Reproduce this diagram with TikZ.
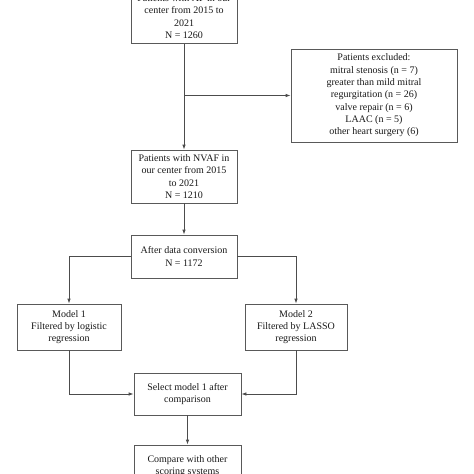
\documentclass[tikz,border=0pt]{standalone}
\usepackage{fontspec}
\setmainfont{Liberation Serif}
\usepackage{tikz}
\usetikzlibrary{arrows.meta}
\colorlet{boxgray}{black!65}
\colorlet{linegray}{black!70}

\tikzset{
  flowbox/.style={draw=boxgray, line width=0.8pt, align=center, inner sep=1pt,
    font=\fontsize{10}{12.3}\selectfont, text=black!90},
  flowline/.style={draw=linegray, line width=0.8pt},
  flowarrow/.style={flowline, -{Latex[length=5pt,width=3.5pt]}}
}

\begin{document}
\begin{tikzpicture}[x=1pt,y=-1pt]
        \clip (0,0) rectangle (474,474);
        \fill[white] (0,0) rectangle (474,474);

        \node[flowbox, minimum width=106pt, minimum height=54pt] (all) at (184,16.5)
          {Patients with AF in our\\center from 2015 to\\2021\\N = 1260};
        \node[flowbox, minimum width=166pt, minimum height=93pt] (excl) at (374,95.5)
          {Patients excluded:\\mitral stenosis (n = 7)\\greater than mild mitral\\regurgitation (n = 26)\\valve repair (n = 6)\\LAAC (n = 5)\\other heart surgery (6)};
        \node[flowbox, minimum width=106pt, minimum height=53pt] (nvaf) at (184,176.5)
          {Patients with NVAF in\\our center from 2015\\to 2021\\N = 1210};
        \node[flowbox, minimum width=106pt, minimum height=43pt] (conv) at (184,256.5)
          {After data conversion\\N = 1172};
        \node[flowbox, minimum width=104pt, minimum height=46pt] (model1) at (69,327)
          {Model 1\\Filtered by logistic\\regression};
        \node[flowbox, minimum width=102pt, minimum height=46pt] (model2) at (296,327)
          {Model 2\\Filtered by LASSO\\regression};
        \node[flowbox, minimum width=107pt, minimum height=42pt] (select) at (187.5,394)
          {Select model 1 after\\comparison};
        \node[flowbox, minimum width=107pt, minimum height=42pt] (compare) at (187.5,466)
          {Compare with other\\scoring systems};

        % exclusions branch off the first arrow
        \draw[flowarrow] (all.south) -- (nvaf.north);
        \coordinate (split) at (all.south |- excl.west);
        \draw[flowarrow] (split) -- (excl.west);
        \draw[flowarrow] (nvaf.south) -- (conv.north);

        % the two models
        \draw[flowarrow] (conv.west) -| (model1.north);
        \draw[flowarrow] (conv.east) -| (model2.north);
        \draw[flowarrow] (model1.south) |- (select.west);
        \draw[flowarrow] (model2.south) |- (select.east);
        \draw[flowarrow] (select.south) -- (compare.north);
\end{tikzpicture}
\end{document}
